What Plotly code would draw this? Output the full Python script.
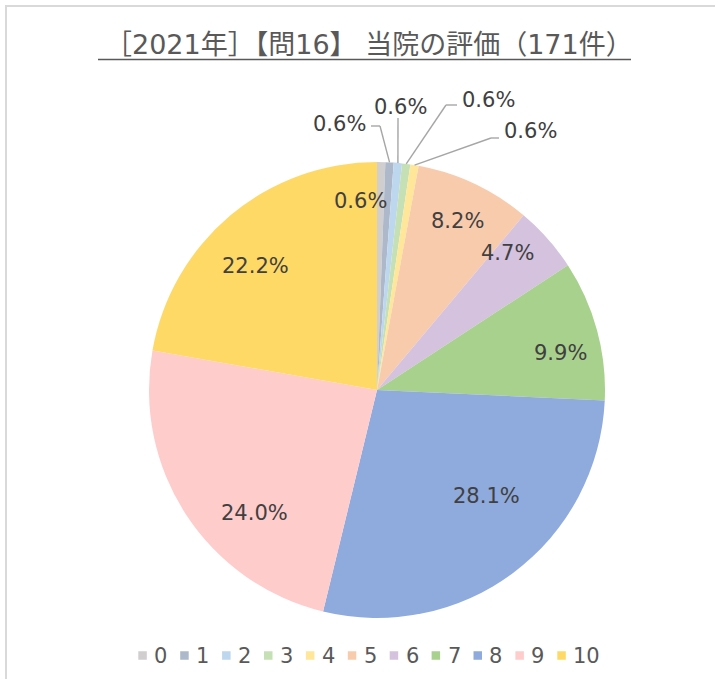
import math
import plotly.graph_objects as go

# Survey responses: rating (0-10) and number of answers
ratings = ["0", "1", "2", "3", "4", "5", "6", "7", "8", "9", "10"]
counts = [1, 1, 1, 1, 1, 14, 8, 17, 48, 41, 38]
colors = ["#d0cece", "#adb9ca", "#bdd7ee", "#c5e0b4", "#ffe699", "#f8cbad",
          "#d4c2de", "#a9d18e", "#8faadc", "#ffcccc", "#ffd966"]
title_text = "［2021年］【問16】 当院の評価（171件）"

W, H = 715, 679
CX, CY, R = 377, 390, 228          # pie centre and radius in px
LABEL_FONT = "DejaVu Sans, Noto Sans CJK JP, sans-serif"


def P(x, y):
    """pixel -> paper coordinates"""
    return x / W, 1 - y / H


def polar(theta_deg, r):
    t = math.radians(theta_deg)
    return CX + r * math.sin(t), CY - r * math.cos(t)


total = sum(counts)
pct = [c / total * 100 for c in counts]
mid_angles = []
acc = 0
for c in counts:
    mid_angles.append((acc + c / 2) / total * 360)
    acc += c

fig = go.Figure()
fig.add_trace(go.Pie(
    labels=ratings, values=counts, sort=False, direction="clockwise",
    rotation=0, marker=dict(colors=colors, line=dict(width=0)),
    textinfo="none", hoverinfo="label+percent", showlegend=False,
    domain=dict(x=[(CX - R) / W, (CX + R) / W],
                y=[1 - (CY + R) / H, 1 - (CY - R) / H]),
))

annotations = []
shapes = []

# labels placed inside the slices: (angle nudge, radius factor)
inside_style = {0: (-6, 0.83), 5: (0.3, 0.82), 6: (-5, 0.83), 7: (4, 0.82),
                8: (-9, 0.67), 9: (-12, 0.76), 10: (-4.5, 0.76)}
for i, (dth, k) in inside_style.items():
    x, y = polar(mid_angles[i] + dth, k * R)
    px, py = P(x, y)
    annotations.append(dict(x=px, y=py, xref="paper", yref="paper",
                            text=f"{pct[i]:.1f}%", showarrow=False,
                            xanchor="center", yanchor="middle",
                            font=dict(family=LABEL_FONT, size=21, color="#404040")))

# small slices with leader lines: elbow point, line end, label anchor, side
leader_style = {
    1: ((380, 126), (371, 126), (368, 124), "right"),
    2: ((398, 118), (398, 118), (400, 107), "center"),
    3: ((446, 105), (457, 105), (460, 100), "left"),
    4: ((491, 138), (499, 138), (502, 131), "left"),
}
for i, (elbow, end, lab, side) in leader_style.items():
    ex, ey = polar(mid_angles[i], R)
    for (x0, y0), (x1, y1) in [((ex, ey), elbow), (elbow, end)]:
        if (x0, y0) == (x1, y1):
            continue
        a0, b0 = P(x0, y0)
        a1, b1 = P(x1, y1)
        shapes.append(dict(type="line", xref="paper", yref="paper",
                           x0=a0, y0=b0, x1=a1, y1=b1,
                           line=dict(color="#a6a6a6", width=1.4)))
    lx, ly = P(*lab)
    annotations.append(dict(x=lx, y=ly, xref="paper", yref="paper",
                            text=f"{pct[i]:.1f}%", showarrow=False,
                            xanchor=side, yanchor="middle",
                            font=dict(family=LABEL_FONT, size=21, color="#404040")))

# title with underline
tx, ty = P(369, 45)
annotations.append(dict(x=tx, y=ty, xref="paper", yref="paper", text=title_text,
                        showarrow=False, xanchor="center", yanchor="middle",
                        font=dict(family=LABEL_FONT, size=27, color="#595959")))
u0 = P(98, 59.5)
u1 = P(631, 59.5)
shapes.append(dict(type="line", xref="paper", yref="paper",
                   x0=u0[0], y0=u0[1], x1=u1[0], y1=u1[1],
                   line=dict(color="#595959", width=1.3)))

# legend row: small coloured squares followed by the rating
LEG_X0, LEG_STEP, LEG_Y, SQ = 138.3, 41.9, 655.5, 8.5
for i, (lab, col) in enumerate(zip(ratings, colors)):
    sx = LEG_X0 + i * LEG_STEP
    a0, b0 = P(sx, LEG_Y - SQ / 2)
    a1, b1 = P(sx + SQ, LEG_Y + SQ / 2)
    shapes.append(dict(type="rect", xref="paper", yref="paper",
                       x0=a0, y0=b0, x1=a1, y1=b1,
                       fillcolor=col, line=dict(width=0)))
    lx, ly = P(sx + 14, LEG_Y)
    annotations.append(dict(x=lx, y=ly, xref="paper", yref="paper", text=lab,
                            showarrow=False, xanchor="left", yanchor="middle",
                            font=dict(family=LABEL_FONT, size=21, color="#595959")))

# chart frame
f0 = P(6, 6)
f1 = P(W + 20, H + 20)
shapes.append(dict(type="rect", xref="paper", yref="paper",
                   x0=f0[0], y0=f0[1], x1=f1[0], y1=f1[1],
                   line=dict(color="#d9d9d9", width=2), fillcolor="rgba(0,0,0,0)"))

fig.update_layout(
    width=W, height=H, margin=dict(l=0, r=0, t=0, b=0),
    paper_bgcolor="white", plot_bgcolor="white",
    showlegend=False, annotations=annotations, shapes=shapes,
)

fig.write_html("out.html")
